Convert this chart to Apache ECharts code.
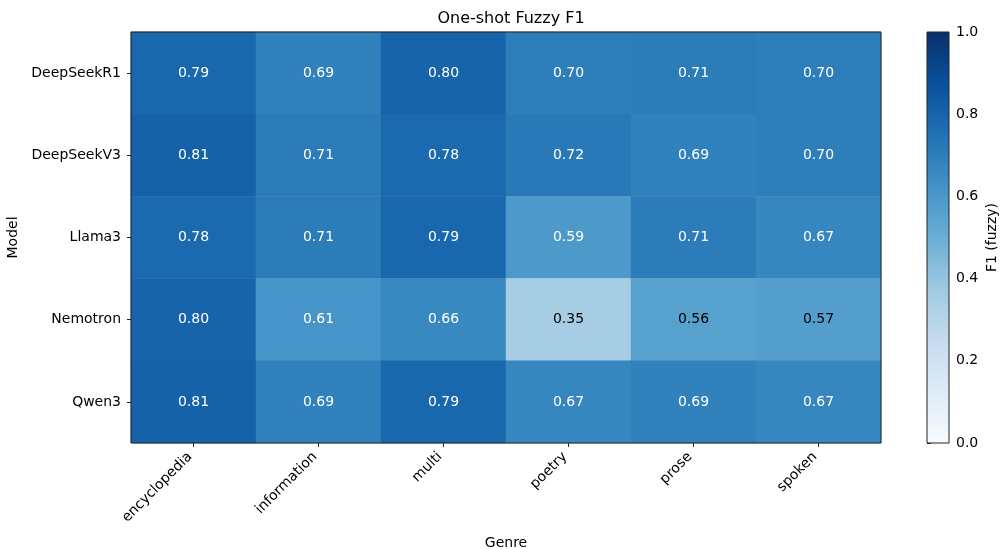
<!DOCTYPE html>
<html>
<head>
<meta charset="utf-8">
<script src="https://cdn.jsdelivr.net/npm/echarts@6/dist/echarts.min.js"></script>
<style>
  html, body { margin: 0; padding: 0; background: #fff; }
  #chart { width: 1000px; height: 549px; }
</style>
</head>
<body>
<div id="chart"></div>
<script>
// 数据
var genres = ['encyclopedia', 'information', 'multi', 'poetry', 'prose', 'spoken']
var models = ['DeepSeekR1', 'DeepSeekV3', 'Llama3', 'Nemotron', 'Qwen3']
var deepSeekR1 = [0.79, 0.69, 0.80, 0.70, 0.71, 0.70]
var deepSeekV3 = [0.81, 0.71, 0.78, 0.72, 0.69, 0.70]
var llama3 = [0.78, 0.71, 0.79, 0.59, 0.71, 0.67]
var nemotron = [0.80, 0.61, 0.66, 0.35, 0.56, 0.57]
var qwen3 = [0.81, 0.69, 0.79, 0.67, 0.69, 0.67]
var cbTicks = [0, 0.2, 0.4, 0.6, 0.8, 1.0]

// matplotlib Blues
var blues = ['#f7fbff', '#deebf7', '#c6dbef', '#9ecae1', '#6baed6', '#4292c6', '#2171b5', '#08519c', '#08306b']
var font = 'DejaVu Sans'

var rows = [deepSeekR1, deepSeekV3, llama3, nemotron, qwen3]
var heatData = []
rows.forEach(function (row, j) {
  row.forEach(function (v, i) {
    heatData.push({
      value: [i, j, v],
      label: { color: v > 0.58 ? '#ffffff' : '#000000' }
    })
  })
})

var myChart = echarts.init(document.getElementById('chart'))
myChart.setOption({
  animation: false,
  textStyle: { fontFamily: font },
  title: {
    text: 'One-shot Fuzzy F1',
    left: 506,
    textAlign: 'center',
    top: 6,
    textStyle: { fontFamily: font, fontSize: 16, fontWeight: 'normal', color: '#000' }
  },
  grid: [
    { left: 131, right: 119, top: 32, bottom: 106, outerBoundsMode: 'none', containLabel: false, show: true, borderColor: '#222', borderWidth: 1, z: 10 },
    { left: 927, width: 22, top: 32, bottom: 106, outerBoundsMode: 'none', containLabel: false, show: true, borderColor: '#222', borderWidth: 1, z: 10 }
  ],
  xAxis: [
    {
      type: 'category',
      gridIndex: 0,
      data: genres,
      name: 'Genre',
      nameLocation: 'middle',
      nameGap: 93,
      nameTextStyle: { fontFamily: font, fontSize: 14, color: '#000' },
      axisLine: { show: false },
      axisTick: { show: true, alignWithLabel: true, length: 4, lineStyle: { color: '#222' } },
      axisLabel: { rotate: 45, margin: 8, padding: [0, 5, 0, 0], fontFamily: font, fontSize: 14, color: '#000' },
      splitLine: { show: false }
    },
    {
      type: 'value',
      gridIndex: 1,
      min: 0,
      max: 1,
      show: false
    }
  ],
  yAxis: [
    {
      type: 'category',
      gridIndex: 0,
      data: models,
      inverse: true,
      name: 'Model',
      nameLocation: 'middle',
      nameGap: 108,
      nameRotate: 90,
      nameTextStyle: { fontFamily: font, fontSize: 14, color: '#000' },
      axisLine: { show: false },
      axisTick: { show: true, alignWithLabel: true, length: 4, lineStyle: { color: '#222' } },
      axisLabel: { margin: 10, fontFamily: font, fontSize: 14, color: '#000' },
      splitLine: { show: false }
    },
    {
      type: 'value',
      gridIndex: 1,
      position: 'right',
      min: 0,
      max: 1,
      interval: 0.2,
      name: 'F1 (fuzzy)',
      nameLocation: 'middle',
      nameGap: 36,
      nameRotate: 90,
      nameTextStyle: { fontFamily: font, fontSize: 14, color: '#000' },
      axisLine: { show: false },
      axisTick: { show: true, length: 4, lineStyle: { color: '#222' } },
      axisLabel: {
        margin: 7, fontFamily: font, fontSize: 14, color: '#000',
        formatter: function (v) { return v.toFixed(1) }
      },
      splitLine: { show: false }
    }
  ],
  visualMap: {
    show: false,
    type: 'continuous',
    min: 0,
    max: 1,
    seriesIndex: 0,
    dimension: 2,
    inRange: { color: blues }
  },
  series: [
    {
      type: 'heatmap',
      xAxisIndex: 0,
      yAxisIndex: 0,
      data: heatData,
      label: {
        show: true,
        fontFamily: font,
        fontSize: 14,
        formatter: function (p) { return p.value[2].toFixed(2) }
      },
      itemStyle: { borderWidth: 0 }
    },
    {
      // colorbar
      type: 'custom',
      xAxisIndex: 1,
      yAxisIndex: 1,
      data: [[0, cbTicks[0], 1, cbTicks[cbTicks.length - 1]]],
      renderItem: function (params, api) {
        var p0 = api.coord([api.value(0), api.value(1)])
        var p1 = api.coord([api.value(2), api.value(3)])
        var stops = blues.map(function (c, k) {
          return { offset: 1 - k / (blues.length - 1), color: c }
        }).reverse()
        return {
          type: 'rect',
          shape: { x: p0[0], y: p1[1], width: p1[0] - p0[0], height: p0[1] - p1[1] },
          style: { fill: new echarts.graphic.LinearGradient(0, 0, 0, 1, stops) }
        }
      }
    }
  ]
})
</script>
</body>
</html>
